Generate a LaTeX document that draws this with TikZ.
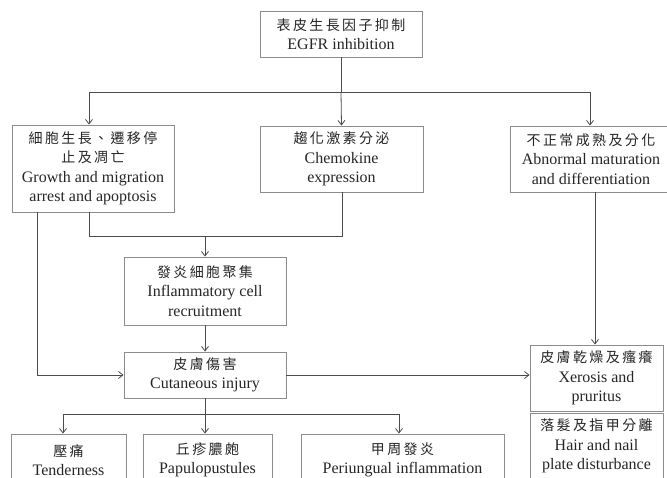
\documentclass[tikz,border=0pt]{standalone}
\usepackage{fontspec}
\setmainfont{Liberation Serif}
\newfontfamily\cjk[LetterSpace=17]{Noto Sans CJK TC}
\usetikzlibrary{arrows.meta}
\tikzset{
  box/.style={draw=black!45, line width=0.9pt, fill=white, align=center, inner sep=0pt,
    text=black!85, font=\fontsize{16}{19.5}\selectfont},
  conn/.style={draw=black!70, line width=0.8pt},
  arr/.style={conn, -{Straight Barb[length=4.5pt,width=7pt]}}
}
\newcommand{\zh}[1]{{\cjk\fontsize{14}{19.5}\selectfont #1}}
\begin{document}
\begin{tikzpicture}[x=1pt,y=-1pt]
\useasboundingbox (0,0) rectangle (667,478);
\clip (0,0) rectangle (667,478);
\fill[white] (0,0) rectangle (667,478);

% boxes
\node[box, minimum width=162, minimum height=46] (top) at (341,34) {\zh{表皮生長因子抑制}\\EGFR inhibition};
\node[box, minimum width=162, minimum height=87] (L) at (93,168.5) {\zh{細胞生長、遷移停}\\\zh{止及凋亡}\\Growth and migration\\arrest and apoptosis};
\node[box, minimum width=163, minimum height=66] (C) at (341.5,159) {\zh{趨化激素分泌}\\Chemokine\\expression};
\node[box, minimum width=162, minimum height=66] (R) at (591,159) {\zh{不正常成熟及分化}\\Abnormal maturation\\and differentiation};
\node[box, minimum width=162, minimum height=68] (I) at (205,291) {\zh{發炎細胞聚集}\\Inflammatory cell\\recruitment};
\node[box, minimum width=162, minimum height=46] (Cut) at (205,375) {\zh{皮膚傷害}\\Cutaneous injury};
\node[box, minimum width=133, minimum height=66] (X) at (596.5,378) {\zh{皮膚乾燥及瘙癢}\\Xerosis and\\pruritus};
\node[box, minimum width=133, minimum height=66] (H) at (596.5,446) {\zh{落髮及指甲分離}\\Hair and nail\\plate disturbance};
\node[box, minimum width=115, minimum height=52] (T) at (68.5,460) {\zh{壓痛}\\Tenderness};
\node[box, minimum width=129, minimum height=52] (P) at (207.5,460) {\zh{丘疹膿皰}\\Papulopustules};
\node[box, minimum width=203, minimum height=52] (U) at (402.5,460) {\zh{甲周發炎}\\Periungual inflammation};

% junction coordinates
\coordinate (j0) at (341,92);
\coordinate (jL) at (89,92);
\coordinate (jR) at (590,92);
\coordinate (m1) at (89,236);
\coordinate (m2) at (342,236);
\coordinate (m0) at (205,236);
\coordinate (l1) at (37,375);
\coordinate (b0) at (205,414);
\coordinate (bT) at (63,414);
\coordinate (bU) at (399,414);

% top branch
\draw[conn] (top.south) -- (j0);
\draw[conn] (jL) -- (jR);
\draw[arr] (jL) -- (jL |- L.north);
\draw[arr] (j0) -- (C.north);
\draw[arr] (jR) -- (jR |- R.north);

% merge to inflammatory
\draw[conn] (m1 |- L.south) -- (m1) -- (m2) -- (m2 |- C.south);
\draw[arr] (m0) -- (I.north);
\draw[arr] (I.south) -- (Cut.north);

% left line to cutaneous
\draw[arr] (l1 |- L.south) -- (l1) -- (Cut.west);

% to xerosis
\draw[arr] (Cut.east) -- (Cut.east -| X.west);
\draw[arr] (595,0 |- R.south) -- (595,0 |- X.north);

% bottom branch
\draw[conn] (Cut.south) -- (b0);
\draw[conn] (bT) -- (bU);
\draw[arr] (bT) -- (bT |- T.north);
\draw[arr] (b0) -- (b0 |- P.north);
\draw[arr] (bU) -- (bU |- U.north);
\end{tikzpicture}
\end{document}
